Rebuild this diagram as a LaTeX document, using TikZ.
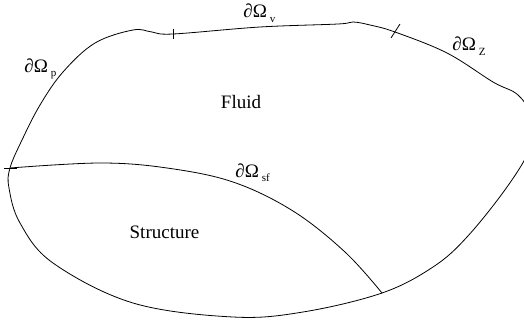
\documentclass[tikz,border=0pt]{standalone}
\usepackage{fontspec}
\setmainfont{Liberation Serif}
\usetikzlibrary{positioning}
\newcommand{\bsub}[1]{\hspace{3pt}\raisebox{-4.5pt}{\fontsize{11}{11}\selectfont #1}}

\begin{document}
\begin{tikzpicture}[x=1pt, y=-1pt, line width=0.8pt,
  lbl/.style={inner sep=0pt, anchor=base west, font=\fontsize{19}{20}\selectfont},
  region/.style={inner sep=0pt, anchor=base, font=\fontsize{19}{20}\selectfont}]
  \useasboundingbox (0,0) rectangle (524,321);
  \clip (0,0) rectangle (524,321);
  % junctions and ticks
  \coordinate (west) at (10,168);
  \coordinate (south) at (382,293);
  \coordinate (tickp) at (173,34);
  \coordinate (tickz) at (395,32);
  % outer boundary
  \draw plot[smooth cycle, tension=0.6] coordinates {
    (west) (22,140) (40,105) (63,72) (95,43) (133,30) (152,32) (tickp)
    (260,27) (338,24) (353,22) (370,25) (tickz) (447,53) (493,82) (518,95)
    (532,118) (530,148) (507,187) (467,237) (433,267) (south) (303,312)
    (233,317) (133,303) (53,263) (20,223) (9,188)};
  % fluid-structure interface
  \draw plot[smooth, tension=0.6] coordinates {
    (west) (100,163) (167,168) (233,182) (293,211) (345,252) (south)};
  \draw (tickp) ++(0,-5) -- ++(0,10);
  \draw (tickz) ++(-4,6) -- ++(9,-14);
  \draw (west) ++(-6,0) -- ++(13,0);
  % labels
  \node[lbl] (gp) at (24,72) {∂Ω\bsub{p}};
  \node[lbl] (gv) at (243,18) {∂Ω\bsub{v}};
  \node[lbl] (gz) at (452,51) {∂Ω\bsub{Z}};
  \node[lbl] (gsf) at (235,177) {∂Ω\bsub{sf}};
  \node[region] (fluid) at (241,108) {Fluid};
  \node[region] (structure) at (164.5,238) {Structure};
\end{tikzpicture}
\end{document}
